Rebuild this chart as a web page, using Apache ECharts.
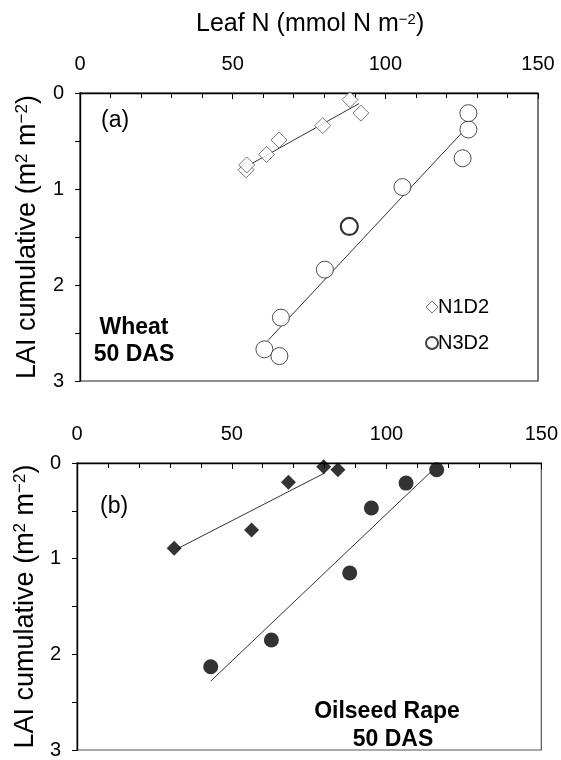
<!DOCTYPE html>
<html><head><meta charset="utf-8">
<script src="https://cdn.jsdelivr.net/npm/echarts@6/dist/echarts.min.js"></script>
<style>html,body{margin:0;padding:0;background:#fff}#c{width:561px;height:760px}</style>
</head><body><div id="c"></div>
<script>
// ---- data (Leaf N in mmol N m-2, LAI cumulative in m2 m-2) ----
var xTicks = [0, 50, 100, 150];
var yTicks = [0, 1, 2, 3];
// Panel (a) Wheat 50 DAS
var wheatN1D2_leafN = [54.4, 54.6, 61.1, 65.2, 79.5, 88.4, 92.0];
var wheatN1D2_LAI   = [0.80, 0.75, 0.64, 0.49, 0.34, 0.07, 0.21];
var wheatN3D2_leafN = [60.4, 65.3, 65.8, 80.2, 88.2, 105.6, 125.3, 127.2, 127.2];
var wheatN3D2_LAI   = [2.67, 2.74, 2.34, 1.84, 1.39, 0.98, 0.68, 0.38, 0.21];
var wheatN1D2_fitN  = [54.3, 91.4];
var wheatN1D2_fitL  = [0.77, 0.11];
var wheatN3D2_fitN  = [61.5, 125.8];
var wheatN3D2_fitL  = [2.58, 0.39];
// Panel (b) Oilseed rape 50 DAS
var rapeN1D2_leafN = [31.4, 56.4, 68.3, 79.7, 84.3];
var rapeN1D2_LAI   = [0.89, 0.70, 0.20, 0.04, 0.07];
var rapeN3D2_leafN = [43.2, 62.8, 88.1, 95.1, 106.3, 116.2];
var rapeN3D2_LAI   = [2.13, 1.85, 1.15, 0.47, 0.21, 0.07];
var rapeN1D2_fitN  = [32.2, 80.0];
var rapeN1D2_fitL  = [0.90, 0.105];
var rapeN3D2_fitN  = [43.2, 114.4];
var rapeN3D2_fitL  = [2.28, 0.09];

function pairs(xs, ys){ return xs.map(function(x,i){ return [x, ys[i]]; }); }

var FONT = 'Liberation Sans, Arial, sans-serif';
var chart = echarts.init(document.getElementById('c'), null, {renderer:'canvas'});

function xAx(g){
  return {gridIndex:g, type:'value', position:'top', min:xTicks[0], max:xTicks[xTicks.length-1], interval:50,
    axisLine:{show:true, onZero:false, lineStyle:{color:'#000', width:1.4}},
    axisTick:{show:true, inside:true, length:6, lineStyle:{color:'#000'}},
    minorTick:{show:true, splitNumber:5, length:5, lineStyle:{color:'#000'}},
    axisLabel:{fontFamily:FONT, fontSize:20, color:'#000', margin:19},
    splitLine:{show:false}};
}
function yAx(g, gap){
  return {gridIndex:g, type:'value', inverse:true, min:yTicks[0], max:yTicks[yTicks.length-1], interval:1,
    axisLine:{show:true, onZero:false, lineStyle:{color:'#000', width:1.4}},
    axisTick:{show:true, inside:false, length:5, lineStyle:{color:'#000'}},
    minorTick:{show:true, splitNumber:2, length:5, lineStyle:{color:'#000'}},
    axisLabel:{fontFamily:FONT, fontSize:20, color:'#000', margin:16},
    splitLine:{show:false},
    name:'LAI cumulative (m{sup|2} m{sup|\u22122})', nameLocation:'middle', nameGap:gap, nameRotate:90,
    nameTextStyle:{fontFamily:FONT, fontSize:27, color:'#000',
      rich:{sup:{fontFamily:FONT, fontSize:17, color:'#000', verticalAlign:'top', padding:[0,0,10,0]}}}};
}
var lineStyle = {color:'#333', width:1};

var option = {
  animation:false,
  backgroundColor:'#fff',
  title:{text:'Leaf N (mmol N m{sup|\u22122})', left:196, top:12, padding:0,
    textStyle:{fontFamily:FONT, fontSize:25, fontWeight:'normal', color:'#000',
      rich:{sup:{fontFamily:FONT, fontSize:15, color:'#000', verticalAlign:'top', padding:[0,0,9,0]}}}},
  grid:[
    {left:80, top:93, width:458, height:288, show:true, borderColor:'#222', borderWidth:1.2, backgroundColor:'transparent'},
    {left:77, top:463, width:465, height:292, show:true, borderColor:'#555', borderWidth:1.2, backgroundColor:'transparent'}
  ],
  xAxis:[xAx(0), xAx(1)],
  yAxis:[yAx(0, 39), yAx(1, 36)],
  legend:{orient:'vertical', left:420, top:292, itemGap:16, itemWidth:12, itemHeight:12,
    textStyle:{fontFamily:FONT, fontSize:20, color:'#000', padding:[0,0,0,-5]},
    data:[{name:'N1D2', icon:'diamond', itemStyle:{color:'#fff', borderColor:'#555', borderWidth:1}},
          {name:'N3D2', icon:'circle', itemStyle:{color:'#fff', borderColor:'#111', borderWidth:2}}]},
  graphic:[
    {type:'text', left:101, top:109, style:{text:'(a)', font:'23px '+FONT, fill:'#000'}},
    {type:'text', x:134, y:328, style:{text:'Wheat', font:'bold 23px '+FONT, fill:'#000', align:'center', verticalAlign:'middle'}},
    {type:'text', x:134, y:355, style:{text:'50 DAS', font:'bold 23px '+FONT, fill:'#000', align:'center', verticalAlign:'middle'}},
    {type:'text', left:100, top:495, style:{text:'(b)', font:'23px '+FONT, fill:'#000'}},
    {type:'text', x:387, y:712, style:{text:'Oilseed Rape', font:'bold 23px '+FONT, fill:'#000', align:'center', verticalAlign:'middle'}},
    {type:'text', x:393, y:740, style:{text:'50 DAS', font:'bold 23px '+FONT, fill:'#000', align:'center', verticalAlign:'middle'}}
  ],
  series:[
    {name:'N1D2', type:'scatter', xAxisIndex:0, yAxisIndex:0, symbol:'diamond', symbolSize:16, z:3,
      itemStyle:{color:'#fff', borderColor:'#555', borderWidth:1}, data:pairs(wheatN1D2_leafN, wheatN1D2_LAI)},
    {name:'N3D2', type:'scatter', xAxisIndex:0, yAxisIndex:0, symbol:'circle', symbolSize:17, z:3,
      itemStyle:{color:'#fff', borderColor:'#222', borderWidth:1},
      data:pairs(wheatN3D2_leafN, wheatN3D2_LAI).map(function(p,i){ return i===4 ? {value:p, itemStyle:{borderWidth:2.2, borderColor:'#000'}} : p; })},
    {name:'fitA1', type:'line', xAxisIndex:0, yAxisIndex:0, showSymbol:false, symbol:'none', lineStyle:lineStyle, z:2, data:pairs(wheatN1D2_fitN, wheatN1D2_fitL)},
    {name:'fitA3', type:'line', xAxisIndex:0, yAxisIndex:0, showSymbol:false, symbol:'none', lineStyle:lineStyle, z:2, data:pairs(wheatN3D2_fitN, wheatN3D2_fitL)},
    {name:'rapeN1D2', type:'scatter', xAxisIndex:1, yAxisIndex:1, symbol:'diamond', symbolSize:15, z:3,
      itemStyle:{color:'#000'}, data:pairs(rapeN1D2_leafN, rapeN1D2_LAI)},
    {name:'rapeN3D2', type:'scatter', xAxisIndex:1, yAxisIndex:1, symbol:'circle', symbolSize:15, z:3,
      itemStyle:{color:'#000'}, data:pairs(rapeN3D2_leafN, rapeN3D2_LAI)},
    {name:'fitB1', type:'line', xAxisIndex:1, yAxisIndex:1, showSymbol:false, symbol:'none', lineStyle:lineStyle, z:2, data:pairs(rapeN1D2_fitN, rapeN1D2_fitL)},
    {name:'fitB3', type:'line', xAxisIndex:1, yAxisIndex:1, showSymbol:false, symbol:'none', lineStyle:lineStyle, z:2, data:pairs(rapeN3D2_fitN, rapeN3D2_fitL)}
  ]
};
chart.setOption(option);
</script></body></html>
